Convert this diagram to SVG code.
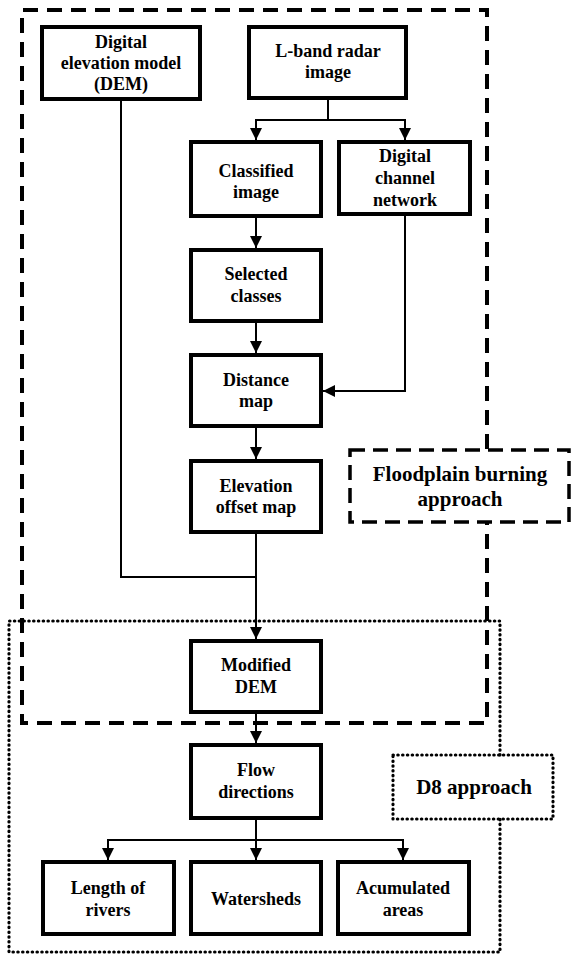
<svg xmlns="http://www.w3.org/2000/svg" width="572" height="961" viewBox="0 0 572 961">
  <defs>
    <marker id="arrow" markerUnits="userSpaceOnUse" markerWidth="12" markerHeight="12" viewBox="0 0 12 12" refX="12" refY="6" orient="auto">
      <path d="M0,0 L12,6 L0,12 Z" fill="#000"/>
    </marker>
    <style>
      .node rect { fill: #fff; stroke: #000; stroke-width: 4; }
      text { font-family: "Liberation Serif", "Times New Roman", serif; font-weight: bold; fill: #000; text-anchor: middle; }
      .lbl { font-size: 18px; }
      .big { font-size: 21px; }
      .conn path { fill: none; stroke: #000; stroke-width: 2; }
      .dash { fill: none; stroke: #000; stroke-width: 4; stroke-dasharray: 15 9; }
      .dot { fill: none; stroke: #000; stroke-width: 3.2; stroke-dasharray: 0.4 4.4; stroke-linecap: round; }
    </style>
  </defs>
  <rect width="572" height="961" fill="#fff"/>

  <!-- D8 approach region (dotted) -->
  <g id="d8-region">
    <path class="dot" d="M500 755 V621 H9 V952 H500 V819"/>
    <rect class="dot" x="393" y="755" width="160" height="64"/>
    <text class="big" x="474" y="794">D8 approach</text>
  </g>

  <!-- Floodplain burning region (dashed) -->
  <g id="floodplain-region">
    <path class="dash" d="M487 449 V10 H22 V723 H487 V522"/>
    <rect class="dash" x="350" y="450" width="219" height="72" style="stroke-width:3.5;stroke-dasharray:15 8"/>
    <text class="big" x="460" y="481">Floodplain burning</text>
    <text class="big" x="460" y="506">approach</text>
  </g>

  <!-- connectors -->
  <g id="connectors" class="conn">
    <path d="M328 99 V120 H256 V140" marker-end="url(#arrow)"/>
    <path d="M328 120 H405 V140" marker-end="url(#arrow)"/>
    <path d="M256 218 V248" marker-end="url(#arrow)"/>
    <path d="M256 323 V353" marker-end="url(#arrow)"/>
    <path d="M405 216 V391 H323" marker-end="url(#arrow)"/>
    <path d="M256 428 V459" marker-end="url(#arrow)"/>
    <path d="M121 101 V577 H256"/>
    <path d="M256 534 V639" marker-end="url(#arrow)"/>
    <path d="M256 714 V743" marker-end="url(#arrow)"/>
    <path d="M256 820 V840 H108 V860" marker-end="url(#arrow)"/>
    <path d="M256 840 V860" marker-end="url(#arrow)"/>
    <path d="M256 840 H403 V860" marker-end="url(#arrow)"/>
  </g>

  <!-- nodes -->
  <g id="dem" class="node">
    <rect x="42" y="27" width="158" height="72"/>
    <text class="lbl" x="121" y="48">Digital</text>
    <text class="lbl" x="121" y="69">elevation model</text>
    <text class="lbl" x="121" y="90">(DEM)</text>
  </g>
  <g id="radar" class="node">
    <rect x="249" y="27" width="157" height="71"/>
    <text class="lbl" x="328" y="57">L-band radar</text>
    <text class="lbl" x="328" y="78">image</text>
  </g>
  <g id="classified" class="node">
    <rect x="191" y="142" width="130" height="74"/>
    <text class="lbl" x="256" y="177">Classified</text>
    <text class="lbl" x="256" y="198">image</text>
  </g>
  <g id="channel" class="node">
    <rect x="339" y="142" width="131" height="72"/>
    <text class="lbl" x="405" y="162">Digital</text>
    <text class="lbl" x="405" y="184">channel</text>
    <text class="lbl" x="405" y="206">network</text>
  </g>
  <g id="selected" class="node">
    <rect x="191" y="250" width="130" height="71"/>
    <text class="lbl" x="256" y="280">Selected</text>
    <text class="lbl" x="256" y="302">classes</text>
  </g>
  <g id="distance" class="node">
    <rect x="191" y="355" width="130" height="71"/>
    <text class="lbl" x="256" y="386">Distance</text>
    <text class="lbl" x="256" y="407">map</text>
  </g>
  <g id="elevation-offset" class="node">
    <rect x="191" y="461" width="130" height="71"/>
    <text class="lbl" x="256" y="492">Elevation</text>
    <text class="lbl" x="256" y="513">offset map</text>
  </g>
  <g id="modified-dem" class="node">
    <rect x="191" y="641" width="130" height="71"/>
    <text class="lbl" x="256" y="671">Modified</text>
    <text class="lbl" x="256" y="693">DEM</text>
  </g>
  <g id="flow" class="node">
    <rect x="191" y="745" width="130" height="73"/>
    <text class="lbl" x="256" y="776">Flow</text>
    <text class="lbl" x="256" y="798">directions</text>
  </g>
  <g id="length" class="node">
    <rect x="43" y="862" width="131" height="72"/>
    <text class="lbl" x="108" y="894">Length of</text>
    <text class="lbl" x="108" y="916">rivers</text>
  </g>
  <g id="watersheds" class="node">
    <rect x="191" y="862" width="130" height="72"/>
    <text class="lbl" x="256" y="905">Watersheds</text>
  </g>
  <g id="accumulated" class="node">
    <rect x="338" y="862" width="131" height="72"/>
    <text class="lbl" x="403" y="894">Acumulated</text>
    <text class="lbl" x="403" y="916">areas</text>
  </g>
</svg>
